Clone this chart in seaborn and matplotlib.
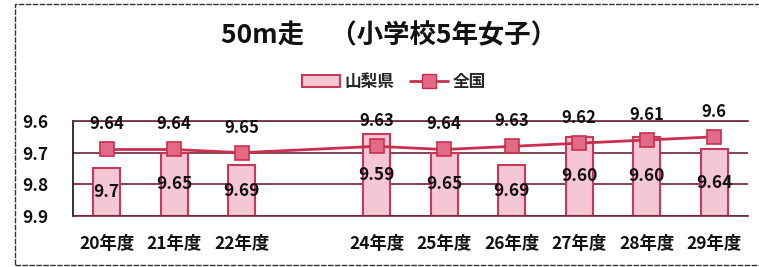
import numpy as np
import pandas as pd
import matplotlib.pyplot as plt
import seaborn as sns
from matplotlib.lines import Line2D
from matplotlib.patches import Patch, Rectangle

# data (23年度 has no data)
years = ["20年度", "21年度", "22年度", "23年度", "24年度",
         "25年度", "26年度", "27年度", "28年度", "29年度"]
yamanashi = [9.70, 9.65, 9.69, np.nan, 9.59, 9.65, 9.69, 9.60, 9.60, 9.64]
zenkoku = [9.64, 9.64, 9.65, np.nan, 9.63, 9.64, 9.63, 9.62, 9.61, 9.60]
yamanashi_text = ["9.7", "9.65", "9.69", "", "9.59", "9.65", "9.69", "9.60", "9.60", "9.64"]
zenkoku_text = ["9.64", "9.64", "9.65", "", "9.63", "9.64", "9.63", "9.62", "9.61", "9.6"]
xtick_text = ["20年度", "21年度", "22年度", "", "24年度",
              "25年度", "26年度", "27年度", "28年度", "29年度"]
ytick_vals = [9.55, 9.65, 9.75, 9.85]
ytick_text = ["9.6", "9.7", "9.8", "9.9"]

Y_TOP = 9.55
Y_BASE = 9.85

BAR_FACE = "#f5c6d3"
BAR_EDGE = "#c9385a"
LINE_COL = "#c8304f"
MARK_FACE = "#e36a86"
GRID_COL = "#6a2636"

sns.set_theme(style="white")
plt.rcParams['font.family'] = ['Noto Sans CJK JP', 'DejaVu Sans']

df = pd.DataFrame({"year": years, "yamanashi": yamanashi, "zenkoku": zenkoku})
df["pos"] = np.arange(len(df))
df["drop"] = df["yamanashi"] - Y_BASE  # bars grow up from the bottom of the reversed axis

fig = plt.figure(figsize=(7.59, 2.67), dpi=100)
ax = fig.add_axes([73 / 759, 1 - 216 / 267, 675 / 759, 95 / 267])

sns.barplot(data=df, x="year", y="drop", order=years, bottom=Y_BASE,
            width=0.4, color=BAR_FACE, saturation=1, edgecolor=BAR_EDGE,
            linewidth=1.5, errorbar=None, ax=ax, zorder=2)

sns.lineplot(data=df.dropna(), x="pos", y="zenkoku", color=LINE_COL,
             linewidth=2, marker="s", markersize=10, markerfacecolor=MARK_FACE,
             markeredgecolor=LINE_COL, markeredgewidth=1.2, ax=ax, zorder=3)

ax.set_xlim(-0.5, len(years) - 0.5)
ax.set_ylim(Y_BASE, Y_TOP)
ax.set_yticks(ytick_vals, ytick_text)
ax.set_xticks(df["pos"], xtick_text)
ax.set_xlabel("")
ax.set_ylabel("")

ax.set_axisbelow(True)
ax.yaxis.grid(True, color=GRID_COL, linewidth=1.2)
ax.xaxis.grid(False)
for side in ["top", "bottom"]:
    ax.spines[side].set_color(GRID_COL)
    ax.spines[side].set_linewidth(1.2)
ax.spines["right"].set_visible(False)
ax.spines["left"].set_color("#111111")
ax.spines["left"].set_linewidth(1.2)

ax.tick_params(axis="y", length=0, pad=18, labelsize=12.5, labelcolor="#111111")
ax.tick_params(axis="x", length=0, pad=14, labelsize=12.5, labelcolor="#111111")
for lab in ax.get_xticklabels() + ax.get_yticklabels():
    lab.set_fontweight("bold")

# data labels
for i in df["pos"]:
    if yamanashi_text[i]:
        ax.text(i, (yamanashi[i] + Y_BASE) / 2, yamanashi_text[i], ha="center",
                va="center", fontsize=12.5, fontweight="bold", color="#111111", zorder=5)
    if zenkoku_text[i]:
        ax.annotate(zenkoku_text[i], (i, zenkoku[i]), xytext=(0, 18),
                    textcoords="offset points", ha="center", va="center",
                    fontsize=12, fontweight="bold", color="#111111", zorder=5)

fig.text(389 / 759, 1 - 36 / 267, "50m走　（小学校5年女子）", ha="center",
         va="center", fontsize=19, fontweight="bold", color="#111111")

handles = [Patch(facecolor=BAR_FACE, edgecolor=BAR_EDGE, linewidth=1.5),
           Line2D([], [], color=LINE_COL, linewidth=2, marker="s", markersize=10,
                  markerfacecolor=MARK_FACE, markeredgecolor=LINE_COL)]
fig.legend(handles, ["山梨県", "全国"], loc="center",
           bbox_to_anchor=(394 / 759, 1 - 82 / 267), ncol=2, frameon=False,
           handlelength=2.3, handletextpad=0.3, columnspacing=0.9,
           prop={"size": 12, "weight": "bold"})

# dotted outer frame of the scanned chart
fig.add_artist(Rectangle((15 / 759, 2 / 267), 760 / 759, 261 / 267,
                         transform=fig.transFigure, fill=False,
                         edgecolor="#333333", linewidth=1, linestyle=(0, (4, 1))))

fig.savefig("out.png", dpi=100)
